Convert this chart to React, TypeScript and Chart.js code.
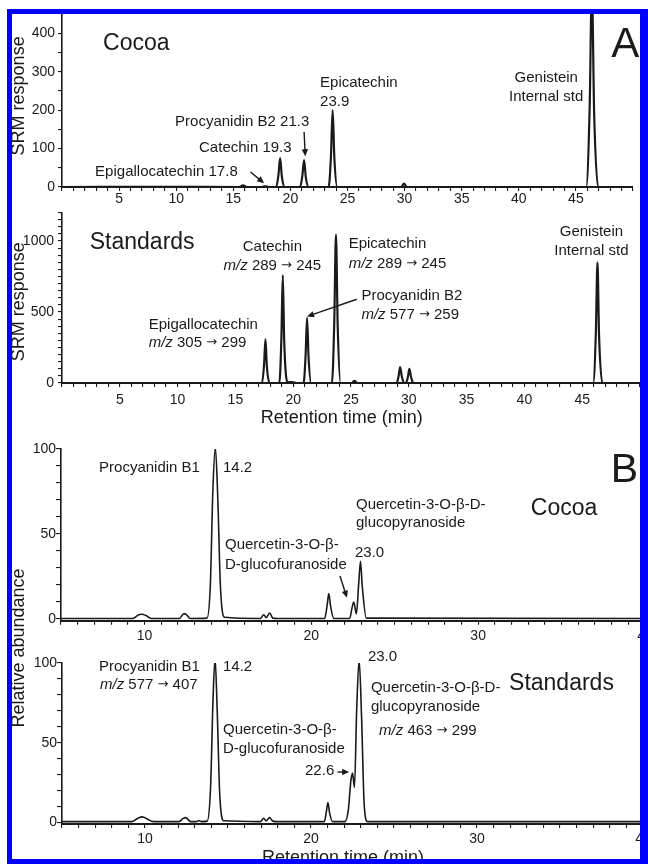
import React, { useEffect, useRef } from 'react';
import { Chart, registerables } from 'chart.js';

Chart.register(...registerables);

const FONT = '"Liberation Sans", Arial, Helvetica, sans-serif';
const ARROW_FONT = '"DejaVu Sans", "Liberation Sans", sans-serif';
const INK = '#1a1a1a';

// ---------- Panel A: SRM chromatograms (retention time, min / SRM response) ----------
const cocoaA_time = [0, 10, 15.5, 15.85, 16.2, 17.5, 17.8, 18.1, 18.75, 18.95, 19.1, 19.25, 19.5, 20.85, 21.05, 21.2, 21.35, 21.6, 23.35, 23.55, 23.7, 23.85, 24.1, 29.7, 29.95, 30.2, 45.9, 46.2, 46.4, 46.6, 46.95, 50];
const cocoaA_resp = [0, 0.5, 0, 4, 0, 0, 2, 0, 0, 30, 75, 28, 0, 0, 30, 70, 25, 0, 0, 80, 200, 75, 0, 0, 9, 0, 0, 200, 520, 190, 0, 0];

const stdA_time = [0, 17.3, 17.48, 17.6, 17.72, 17.95, 18.8, 18.98, 19.1, 19.22, 19.5, 19.9, 20.3, 20.9, 21.07, 21.2, 21.33, 21.55, 23.35, 23.55, 23.7, 23.85, 24.1, 25.05, 25.3, 25.55, 28.95, 29.12, 29.25, 29.4, 29.6, 29.75, 29.92, 30.05, 30.2, 30.4, 45.95, 46.18, 46.32, 46.46, 46.75, 50];
const stdA_resp = [0, 0, 130, 310, 120, 0, 0, 320, 760, 300, 5, 6, 0, 0, 190, 458, 180, 0, 0, 420, 1045, 400, 0, 0, 15, 0, 0, 50, 112, 45, 0, 0, 42, 100, 40, 0, 0, 350, 850, 330, 0, 0];

// ---------- Panel B: relative abundance chromatograms ----------
const cocoaB_time = [5, 9.3, 9.65, 9.85, 10.1, 10.4, 12.1, 12.35, 12.45, 12.75, 13.75, 13.95, 14.1, 14.25, 14.4, 14.55, 14.8, 16.95, 17.15, 17.3, 17.5, 17.7, 17.95, 20.8, 20.95, 21.05, 21.15, 21.35, 22.3, 22.45, 22.55, 22.7, 22.85, 22.95, 23.05, 23.3, 40];
const cocoaB_abund = [0.3, 0.3, 2.5, 2.8, 2, 0.3, 0.3, 3, 3, 0.3, 0.5, 20, 75, 101, 70, 20, 1, 0.3, 2.5, 0.8, 3.5, 0.5, 0.3, 0.3, 8, 15, 8, 0.3, 0.3, 7, 10, 3, 22, 34, 20, 0.5, 0.3];

const stdB_time = [5, 9.2, 9.55, 9.85, 10.15, 10.5, 12.05, 12.3, 12.45, 12.75, 13.1, 13.25, 13.4, 13.75, 13.95, 14.1, 14.22, 14.35, 14.5, 14.75, 16.95, 17.15, 17.3, 17.5, 17.7, 17.95, 20.8, 20.93, 21.02, 21.12, 21.3, 22.05, 22.25, 22.4, 22.5, 22.62, 22.75, 22.9, 23.05, 23.2, 23.4, 40];
const stdB_abund = [0.5, 0.5, 2.5, 3.5, 2, 0.5, 0.5, 2.5, 3, 0.5, 0.5, 1.2, 0.5, 0.8, 22, 78, 103, 70, 18, 1, 0.5, 2.5, 1, 3, 0.8, 0.5, 0.5, 7, 12.5, 6, 0.5, 0.5, 8, 26, 31, 22, 70, 102, 65, 12, 0.5, 0.5];

// ---------- Ticks ----------
const xTicksA = Array.from({ length: 51 }, (_, i) => i);
const xLabelsA = [5, 10, 15, 20, 25, 30, 35, 40, 45];
const yTicksCocoaA = [0, 50, 100, 150, 200, 250, 300, 350, 400];
const yLabelsCocoaA = [0, 100, 200, 300, 400];
const yTicksStdA = [0, 50, 100, 150, 200, 250, 300, 350, 400, 450, 500, 550, 600, 650, 700, 750, 800, 850, 900, 950, 1000, 1050, 1100, 1150, 1200];
const yLabelsStdA = [0, 500, 1000];
const xTicksB = Array.from({ length: 36 }, (_, i) => i + 5);
const xLabelsB = [10, 20, 30, 40];
const yTicksB = [0, 10, 20, 30, 40, 50, 60, 70, 80, 90, 100];
const yLabelsB = [0, 50, 100];

type Part = { t: string; i?: boolean; f?: string };
type Note =
  | { kind: 'text'; x: number; y: number; parts: Part[]; size?: number; align?: 'left' | 'center' | 'right'; rotate?: boolean }
  | { kind: 'arrow'; x1: number; y1: number; x2: number; y2: number };

const T = (x: number, y: number, text: string, extra: any = {}): Note => ({ kind: 'text', x, y, parts: [{ t: text }], ...extra });
const MZ = (x: number, y: number, from: string, to: string, extra: any = {}): Note => ({
  kind: 'text', x, y,
  parts: [{ t: 'm/z', i: true }, { t: ` ${from} ` }, { t: '\u2192', f: ARROW_FONT }, { t: ` ${to}` }],
  ...extra,
});
const AR = (x1: number, y1: number, x2: number, y2: number): Note => ({ kind: 'arrow', x1, y1, x2, y2 });

const notesCocoaA: Note[] = [
  T(-3.77, 237, 'SRM response', { size: 18, align: 'center', rotate: true }),
  T(3.6, 372, 'Cocoa', { size: 23 }),
  T(9.9, 169, 'Procyanidin B2 21.3'),
  T(12.0, 101, 'Catechin 19.3'),
  T(2.9, 39, 'Epigallocatechin 17.8'),
  AR(16.5, 39, 17.7, 10),
  AR(21.2, 143, 21.3, 80),
  T(22.6, 271, 'Epicatechin'),
  T(22.6, 221, '23.9'),
  T(42.4, 284, 'Genistein', { align: 'center' }),
  T(42.4, 234, 'Internal std', { align: 'center' }),
  T(48.1, 369, 'A', { size: 42 }),
];

const notesStdA: Note[] = [
  T(-3.72, 572, 'SRM response', { size: 18, align: 'center', rotate: true }),
  T(2.4, 988, 'Standards', { size: 23 }),
  T(18.2, 960, 'Catechin', { align: 'center' }),
  MZ(18.2, 826, '289', '245', { align: 'center' }),
  T(7.5, 409, 'Epigallocatechin'),
  MZ(7.5, 282, '305', '299'),
  T(24.8, 981, 'Epicatechin'),
  MZ(24.8, 840, '289', '245'),
  T(25.9, 614, 'Procyanidin B2'),
  MZ(25.9, 480, '577', '259'),
  AR(25.5, 590, 21.2, 468),
  T(45.8, 1066, 'Genistein', { align: 'center' }),
  T(45.8, 932, 'Internal std', { align: 'center' }),
  T(24.2, -247, 'Retention time (min)', { size: 18, align: 'center' }),
];

const notesCocoaB: Note[] = [
  T(7.28, 88.8, 'Procyanidin B1'),
  T(14.71, 88.8, '14.2'),
  T(14.83, 43.5, 'Quercetin-3-O-\u03b2-'),
  T(14.83, 31.8, 'D-glucofuranoside'),
  AR(21.72, 25.3, 22.14, 12.5),
  T(22.62, 38.8, '23.0'),
  T(22.68, 67, 'Quercetin-3-O-\u03b2-D-'),
  T(22.68, 56.5, 'glucopyranoside'),
  T(33.16, 64.7, 'Cocoa', { size: 23 }),
  T(37.95, 87, 'B', { size: 41 }),
];

const notesStdB: Note[] = [
  T(2.41, 109.4, 'Relative abundance', { size: 18, align: 'center', rotate: true }),
  T(7.23, 97.5, 'Procyanidin B1'),
  MZ(7.29, 86.2, '577', '407'),
  T(14.7, 97.5, '14.2'),
  T(14.7, 58, 'Quercetin-3-O-\u03b2-'),
  T(14.7, 46, 'D-glucofuranoside'),
  T(19.64, 32.2, '22.6'),
  AR(21.6, 31.6, 22.3, 31.6),
  T(23.43, 103.8, '23.0'),
  T(23.61, 84.3, 'Quercetin-3-O-\u03b2-D-'),
  T(23.61, 72.4, 'glucopyranoside'),
  MZ(24.1, 57.3, '463', '299'),
  T(31.93, 86.8, 'Standards', { size: 23 }),
  T(21.93, -22.3, 'Retention time (min)', { size: 18, align: 'center' }),
];

function makeNotes(items: Note[]) {
  return {
    id: 'notes',
    afterDraw(chart: any) {
      const { ctx, scales } = chart;
      const xs = scales.x;
      const ys = scales.y;
      ctx.save();
      ctx.fillStyle = INK;
      ctx.strokeStyle = INK;
      for (const n of items) {
        if (n.kind === 'arrow') {
          const x1 = xs.getPixelForValue(n.x1);
          const y1 = ys.getPixelForValue(n.y1);
          const x2 = xs.getPixelForValue(n.x2);
          const y2 = ys.getPixelForValue(n.y2);
          const ang = Math.atan2(y2 - y1, x2 - x1);
          const hl = 7;
          const hw = 3.2;
          ctx.lineWidth = 1.4;
          ctx.beginPath();
          ctx.moveTo(x1, y1);
          ctx.lineTo(x2 - Math.cos(ang) * hl * 0.8, y2 - Math.sin(ang) * hl * 0.8);
          ctx.stroke();
          ctx.beginPath();
          ctx.moveTo(x2, y2);
          ctx.lineTo(x2 - Math.cos(ang) * hl - Math.sin(ang) * hw, y2 - Math.sin(ang) * hl + Math.cos(ang) * hw);
          ctx.lineTo(x2 - Math.cos(ang) * hl + Math.sin(ang) * hw, y2 - Math.sin(ang) * hl - Math.cos(ang) * hw);
          ctx.closePath();
          ctx.fill();
        } else {
          const size = n.size ?? 15;
          const fontOf = (p: Part) => `${p.i ? 'italic ' : ''}${p.f ? size - 2 : size}px ${p.f ?? FONT}`;
          const widths = n.parts.map((p) => {
            ctx.font = fontOf(p);
            return ctx.measureText(p.t).width;
          });
          const total = widths.reduce((a, b) => a + b, 0);
          let px = xs.getPixelForValue(n.x);
          let py = ys.getPixelForValue(n.y);
          ctx.save();
          if (n.rotate) {
            ctx.translate(px, py);
            ctx.rotate(-Math.PI / 2);
            px = 0;
            py = 0;
          }
          const align = n.align ?? 'left';
          let start = align === 'center' ? px - total / 2 : align === 'right' ? px - total : px;
          ctx.textAlign = 'left';
          ctx.textBaseline = 'middle';
          n.parts.forEach((p, k) => {
            ctx.font = fontOf(p);
            ctx.fillText(p.t, start, py);
            start += widths[k];
          });
          ctx.restore();
        }
      }
      ctx.restore();
    },
  };
}

type Spec = {
  top: number; w: number; h: number;
  area: { left: number; right: number; top: number; bottom: number };
  xs: number[]; ys: number[];
  xMin: number; xMax: number; yMin: number; yMax: number;
  xTicks: number[]; xLabels: number[]; yTicks: number[]; yLabels: number[];
  xPad: number; yPad: number; yTickLen: number; lw: number; notes: Note[];
};

function buildConfig(s: Spec): any {
  const areaTop = s.area.top - s.top;
  const areaBottom = s.area.bottom - s.top;
  return {
    type: 'line',
    data: {
      datasets: [{
        data: s.xs.map((x, i) => ({ x, y: s.ys[i] })),
        borderColor: INK,
        borderWidth: s.lw,
        pointRadius: 0,
        cubicInterpolationMode: 'monotone',
        fill: false,
      }],
    },
    options: {
      animation: false,
      responsive: false,
      maintainAspectRatio: false,
      events: [],
      layout: { padding: { top: areaTop, right: s.w - s.area.right, left: 0, bottom: 0 } },
      plugins: { legend: { display: false }, tooltip: { enabled: false }, title: { display: false } },
      scales: {
        x: {
          type: 'linear', min: s.xMin, max: s.xMax, position: 'bottom',
          afterFit: (sc: any) => { sc.height = s.h - areaBottom; },
          afterBuildTicks: (sc: any) => { sc.ticks = s.xTicks.map((v) => ({ value: v })); },
          ticks: {
            autoSkip: false, maxRotation: 0, minRotation: 0, padding: s.xPad, color: INK,
            font: { family: FONT, size: 14 },
            callback: (v: number) => (s.xLabels.includes(v) ? String(v) : ''),
          },
          grid: { drawOnChartArea: false, drawTicks: true, tickLength: 4, color: INK, lineWidth: 1.1 },
          border: { display: true, color: INK, width: 2 },
        },
        y: {
          type: 'linear', min: s.yMin, max: s.yMax, position: 'left',
          afterFit: (sc: any) => { sc.width = s.area.left; },
          afterBuildTicks: (sc: any) => { sc.ticks = s.yTicks.map((v) => ({ value: v })); },
          ticks: {
            autoSkip: false, padding: s.yPad, color: INK,
            font: { family: FONT, size: 14 },
            callback: (v: number) => (s.yLabels.includes(v) ? String(v) : ''),
          },
          grid: { drawOnChartArea: false, drawTicks: true, tickLength: s.yTickLen, color: INK, lineWidth: 1.1 },
          border: { display: true, color: INK, width: 1.6 },
        },
      },
    },
    plugins: [makeNotes(s.notes)],
  };
}

const specs: Spec[] = [
  {
    top: 0, w: 648, h: 215, area: { left: 62, right: 633, top: 14, bottom: 187 },
    xs: cocoaA_time, ys: cocoaA_resp, xMin: 0, xMax: 50, yMin: 0, yMax: 450,
    xTicks: xTicksA, xLabels: xLabelsA, yTicks: yTicksCocoaA, yLabels: yLabelsCocoaA,
    xPad: 0, yPad: 3, yTickLen: 4, lw: 2.2, notes: notesCocoaA,
  },
  {
    top: 200, w: 648, h: 240, area: { left: 62, right: 640, top: 212.6, bottom: 383 },
    xs: stdA_time, ys: stdA_resp, xMin: 0, xMax: 50, yMin: 0, yMax: 1200,
    xTicks: xTicksA, xLabels: xLabelsA, yTicks: yTicksStdA, yLabels: yLabelsStdA,
    xPad: 4.5, yPad: 4, yTickLen: 4, lw: 2.2, notes: notesStdA,
  },
  {
    top: 430, w: 660, h: 220, area: { left: 61, right: 645, top: 449, bottom: 620.7 },
    xs: cocoaB_time, ys: cocoaB_abund, xMin: 5, xMax: 40, yMin: -1, yMax: 100,
    xTicks: xTicksB, xLabels: xLabelsB, yTicks: yTicksB, yLabels: yLabelsB,
    xPad: 3, yPad: 0, yTickLen: 5, lw: 1.6, notes: notesCocoaB,
  },
  {
    top: 540, w: 660, h: 324, area: { left: 62, right: 643, top: 663, bottom: 824 },
    xs: stdB_time, ys: stdB_abund, xMin: 5, xMax: 40, yMin: -1, yMax: 100,
    xTicks: xTicksB, xLabels: xLabelsB, yTicks: yTicksB, yLabels: yLabelsB,
    xPad: 3, yPad: 0, yTickLen: 5, lw: 1.6, notes: notesStdB,
  },
];

function Panel({ spec }: { spec: Spec }) {
  const ref = useRef<HTMLCanvasElement>(null);
  useEffect(() => {
    const chart = new Chart(ref.current as HTMLCanvasElement, buildConfig(spec));
    return () => chart.destroy();
  }, [spec]);
  return (
    <canvas
      ref={ref}
      width={spec.w}
      height={spec.h}
      style={{ position: 'absolute', left: 0, top: spec.top, width: spec.w, height: spec.h }}
    />
  );
}

export default function App() {
  return (
    <div style={{ position: 'fixed', left: 0, top: 0, width: 648, height: 864, overflow: 'hidden', background: '#fff' }}>
      {specs.map((s, i) => (
        <Panel key={i} spec={s} />
      ))}
      <div
        style={{
          position: 'absolute', left: 7, top: 9, width: 641, height: 855, boxSizing: 'border-box',
          border: '5px solid #0000ff', borderRightWidth: 8, pointerEvents: 'none',
        }}
      />
    </div>
  );
}
